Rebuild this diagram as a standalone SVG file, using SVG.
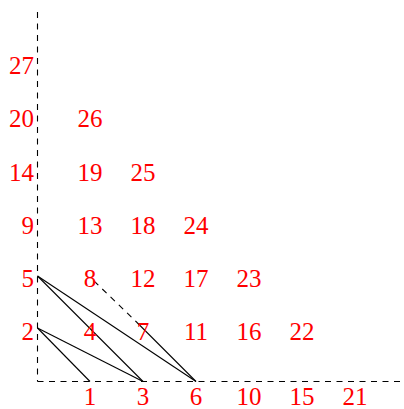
<svg xmlns="http://www.w3.org/2000/svg" width="404" height="409" viewBox="0 0 404 409">
<style>
.t{font-family:"Liberation Serif","DejaVu Serif",serif;font-size:25px;fill:#ff0000;text-anchor:middle}
.l{text-anchor:end}
.ax{stroke:#000;stroke-width:1.1;fill:none;stroke-dasharray:6,5.5}
.ln{stroke:#000;stroke-width:1.1;fill:none}
</style>
<rect width="404" height="409" fill="#fff"/>
<g id="connectors">
<line class="ax" x1="37.5" y1="12" x2="37.5" y2="381.5"/>
<line class="ax" x1="37.5" y1="381.5" x2="400" y2="381.5"/>
<line class="ln" x1="37.5" y1="328" x2="90" y2="381.5"/>
<line class="ln" x1="37.5" y1="328" x2="143" y2="381.5"/>
<line class="ln" x1="37.5" y1="276" x2="143" y2="381.5"/>
<line class="ln" x1="37.5" y1="276" x2="196" y2="381.5"/>
<line class="ax" x1="94" y1="281" x2="137" y2="322.5"/>
<line class="ln" x1="137" y1="322.5" x2="196" y2="381.5"/>
</g>
<g id="left">
<text class="t l" x="34" y="340">2</text>
<text class="t l" x="34" y="287">5</text>
<text class="t l" x="34" y="234">9</text>
<text class="t l" x="34" y="180.5">14</text>
<text class="t l" x="34" y="127">20</text>
<text class="t l" x="34" y="74">27</text>
</g>
<g id="bottom">
<text class="t" x="90" y="405">1</text>
<text class="t" x="143" y="405">3</text>
<text class="t" x="196" y="405">6</text>
<text class="t" x="249" y="405">10</text>
<text class="t" x="302" y="405">15</text>
<text class="t" x="355" y="405">21</text>
</g>
<g id="grid">
<text class="t" x="90" y="340">4</text>
<text class="t" x="143" y="340">7</text>
<text class="t" x="196" y="340">11</text>
<text class="t" x="249" y="340">16</text>
<text class="t" x="302" y="340">22</text>
<text class="t" x="90" y="287">8</text>
<text class="t" x="143" y="287">12</text>
<text class="t" x="196" y="287">17</text>
<text class="t" x="249" y="287">23</text>
<text class="t" x="90" y="234">13</text>
<text class="t" x="143" y="234">18</text>
<text class="t" x="196" y="234">24</text>
<text class="t" x="90" y="180.5">19</text>
<text class="t" x="143" y="180.5">25</text>
<text class="t" x="90" y="127">26</text>
</g>
</svg>
